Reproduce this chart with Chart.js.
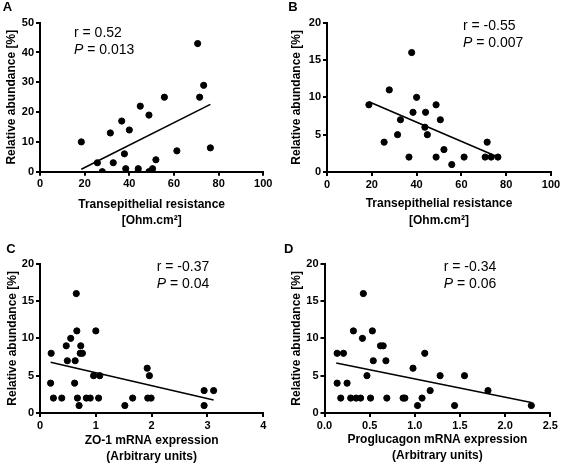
<!DOCTYPE html>
<html>
<head>
<meta charset="utf-8">
<script src="https://cdn.jsdelivr.net/npm/chart.js@4.4.1/dist/chart.umd.min.js"></script>
<style>
  body { margin: 0; background: #fff; }
  #wrap { position: relative; width: 563px; height: 465px; }
  canvas { position: absolute; }
</style>
</head>
<body>
<div id="wrap">
  <canvas id="chartA" width="282" height="232" style="left:0;top:0"></canvas>
  <canvas id="chartB" width="281" height="232" style="left:282px;top:0"></canvas>
  <canvas id="chartC" width="282" height="233" style="left:0;top:232px"></canvas>
  <canvas id="chartD" width="281" height="233" style="left:282px;top:232px"></canvas>
</div>
<script>
// panel A: abundance vs transepithelial resistance
const terA = [18.5, 25.7, 27.9, 31.5, 32.8, 36.6, 37.8, 38.4, 40.0, 43.9, 44.0, 44.9, 48.8, 48.8, 50.4, 51.9, 55.7, 61.3, 70.6, 71.5, 73.3, 76.3];
const abundA = [10, 3, 0, 13, 3, 17, 6, 1, 14, 0, 1, 22, 19, 0, 1, 4, 25, 7, 43, 25, 29, 8];
const fitXA = [18.5, 76.3];
const fitYA = [0.8, 22.6];

// panel B
const terB = [18.7, 25.5, 27.8, 31.5, 32.8, 36.6, 37.8, 38.4, 40.0, 43.7, 44.0, 44.8, 48.7, 48.7, 50.6, 52.2, 55.7, 61.2, 70.6, 71.5, 73.3, 76.3];
const abundB = [9, 4, 11, 5, 7, 2, 16, 8, 10, 6, 8, 5, 9, 2, 7, 3, 1, 2, 2, 4, 2, 2];
const fitXB = [18.7, 76.3];
const fitYB = [9.4, 2.0];

// panel C: ZO-1 mRNA
const zo1C = [0.19, 0.20, 0.24, 0.39, 0.47, 0.49, 0.55, 0.62, 0.63, 0.65, 0.66, 0.67, 0.70, 0.72, 0.73, 0.76, 0.83, 0.90, 0.96, 1.00, 1.05, 1.07, 1.52, 1.66, 1.92, 1.93, 1.96, 1.99, 2.94, 2.94, 3.11];
const abundC = [4, 8, 2, 2, 9, 7, 10, 4, 7, 16, 11, 2, 1, 8, 9, 8, 2, 2, 5, 11, 2, 5, 1, 2, 6, 2, 5, 2, 3, 1, 3];
const fitXC = [0.19, 3.11];
const fitYC = [6.8, 1.75];

// panel D: proglucagon mRNA
const pgD = [0.14, 0.14, 0.18, 0.21, 0.25, 0.29, 0.32, 0.35, 0.40, 0.42, 0.43, 0.47, 0.51, 0.53, 0.54, 0.62, 0.65, 0.68, 0.69, 0.87, 0.89, 0.98, 1.03, 1.08, 1.11, 1.17, 1.28, 1.44, 1.55, 1.81, 2.29];
const abundD = [8, 4, 2, 8, 4, 2, 11, 2, 2, 10, 16, 5, 2, 11, 7, 9, 9, 7, 2, 2, 2, 6, 1, 2, 8, 3, 5, 1, 5, 3, 1];
const fitXD = [0.13, 2.29];
const fitYD = [6.7, 1.4];

const FONT = 'Arial, "Liberation Sans", Helvetica, sans-serif';

// r / P text and panel letter, drawn on the canvas
const statsPlugin = {
  id: 'stats',
  afterDraw(chart, args, o) {
    const ctx = chart.ctx;
    ctx.save();
    ctx.fillStyle = '#000';
    ctx.textBaseline = 'middle';
    ctx.textAlign = 'center';
    ctx.font = 'bold 13px ' + FONT;
    ctx.fillText(o.letter, o.letterX, o.letterY);
    ctx.textAlign = 'left';
    ctx.font = '14px ' + FONT;
    ctx.fillText(o.r, o.x, o.y1);
    ctx.font = 'italic 14px ' + FONT;
    ctx.fillText('P', o.x, o.y2);
    const w = ctx.measureText('P').width;
    ctx.font = '14px ' + FONT;
    ctx.fillText(o.p, o.x + w, o.y2);
    ctx.restore();
  }
};

function makePanel(id, p) {
  const canvas = document.getElementById(id);
  const W = canvas.width, H = canvas.height;
  const pts = p.x.map((v, i) => ({x: v, y: p.y[i]}));
  const fit = p.fitX.map((v, i) => ({x: v, y: p.fitY[i]}));
  const tickFont = {family: FONT, size: 11, weight: 'bold'};
  const titleFont = {family: FONT, size: 12, weight: 'bold'};
  const grid = {drawOnChartArea: false, tickLength: 4, color: '#000', lineWidth: 2};
  const border = {color: '#000', width: 2};
  new Chart(canvas, {
    type: 'scatter',
    data: {
      datasets: [
        {data: pts, backgroundColor: '#000', borderColor: '#000', pointRadius: 3.1, pointHoverRadius: 3.1},
        {type: 'line', data: fit, borderColor: '#000', borderWidth: 1.6, pointRadius: 0, fill: false}
      ]
    },
    options: {
      responsive: false,
      animation: false,
      events: [],
      layout: {padding: {left: 0, top: p.top, right: W - p.right, bottom: 0}},
      plugins: {
        legend: {display: false},
        tooltip: {enabled: false},
        stats: p.stats
      },
      scales: {
        x: {
          type: 'linear', min: p.xMin, max: p.xMax,
          ticks: {stepSize: p.xStep, font: tickFont, color: '#000', padding: 2, callback: p.xFmt},
          grid: grid, border: border,
          title: {display: true, text: p.xTitle, color: '#000', font: Object.assign({lineHeight: 1.375}, titleFont), padding: {top: 0, bottom: p.xTitlePad}},
          afterFit: s => { s.height = H - p.bottom; }
        },
        y: {
          type: 'linear', min: 0, max: p.yMax,
          ticks: {stepSize: p.yStep, font: tickFont, color: '#000', padding: 2},
          grid: grid, border: border,
          title: {display: true, text: 'Relative abundance [%]', color: '#000', font: titleFont, padding: {top: p.yTitlePad, bottom: 0}},
          afterFit: s => { s.width = p.left; }
        }
      }
    },
    plugins: [statsPlugin]
  });
}

const terTitle = ['Transepithelial resistance', '[Ohm.cm\u00b2]'];

makePanel('chartA', {
  x: terA, y: abundA, fitX: fitXA, fitY: fitYA,
  xMin: 0, xMax: 100, xStep: 20, yMax: 50, yStep: 10, xTitle: terTitle,
  left: 40, right: 263.3, top: 22.7, bottom: 171.7, xTitlePad: 3, yTitlePad: 4.8,
  stats: {letter: 'A', letterX: 7.5, letterY: 7.5, r: 'r = 0.52', p: ' = 0.013', x: 74, y1: 33.3, y2: 50}
});
makePanel('chartB', {
  x: terB, y: abundB, fitX: fitXB, fitY: fitYB,
  xMin: 0, xMax: 100, xStep: 20, yMax: 20, yStep: 5, xTitle: terTitle,
  left: 45, right: 269, top: 22.7, bottom: 172, xTitlePad: 3.5, yTitlePad: 7.8,
  stats: {letter: 'B', letterX: 11, letterY: 7.5, r: 'r = -0.55', p: ' = 0.007', x: 181, y1: 26, y2: 43.3}
});
makePanel('chartC', {
  x: zo1C, y: abundC, fitX: fitXC, fitY: fitYC,
  xMin: 0, xMax: 4, xStep: 1, yMax: 20, yStep: 5, xTitle: ['ZO-1 mRNA expression', '(Arbitrary units)'],
  left: 40, right: 263.3, top: 31.7, bottom: 181, xTitlePad: 0, yTitlePad: 5.5,
  stats: {letter: 'C', letterX: 11, letterY: 17.3, r: 'r = -0.37', p: ' = 0.04', x: 156.7, y1: 35, y2: 51.7}
});
makePanel('chartD', {
  x: pgD, y: abundD, fitX: fitXD, fitY: fitYD,
  xMin: 0, xMax: 2.5, xStep: 0.5, yMax: 20, yStep: 5, xTitle: ['Proglucagon mRNA expression', '(Arbitrary units)'],
  xFmt: v => v.toFixed(1),
  left: 42.5, right: 268.3, top: 31.7, bottom: 181, xTitlePad: 0.75, yTitlePad: 7.8,
  stats: {letter: 'D', letterX: 6.7, letterY: 17.3, r: 'r = -0.34', p: ' = 0.06', x: 161.7, y1: 35, y2: 51.7}
});
</script>
</body>
</html>
